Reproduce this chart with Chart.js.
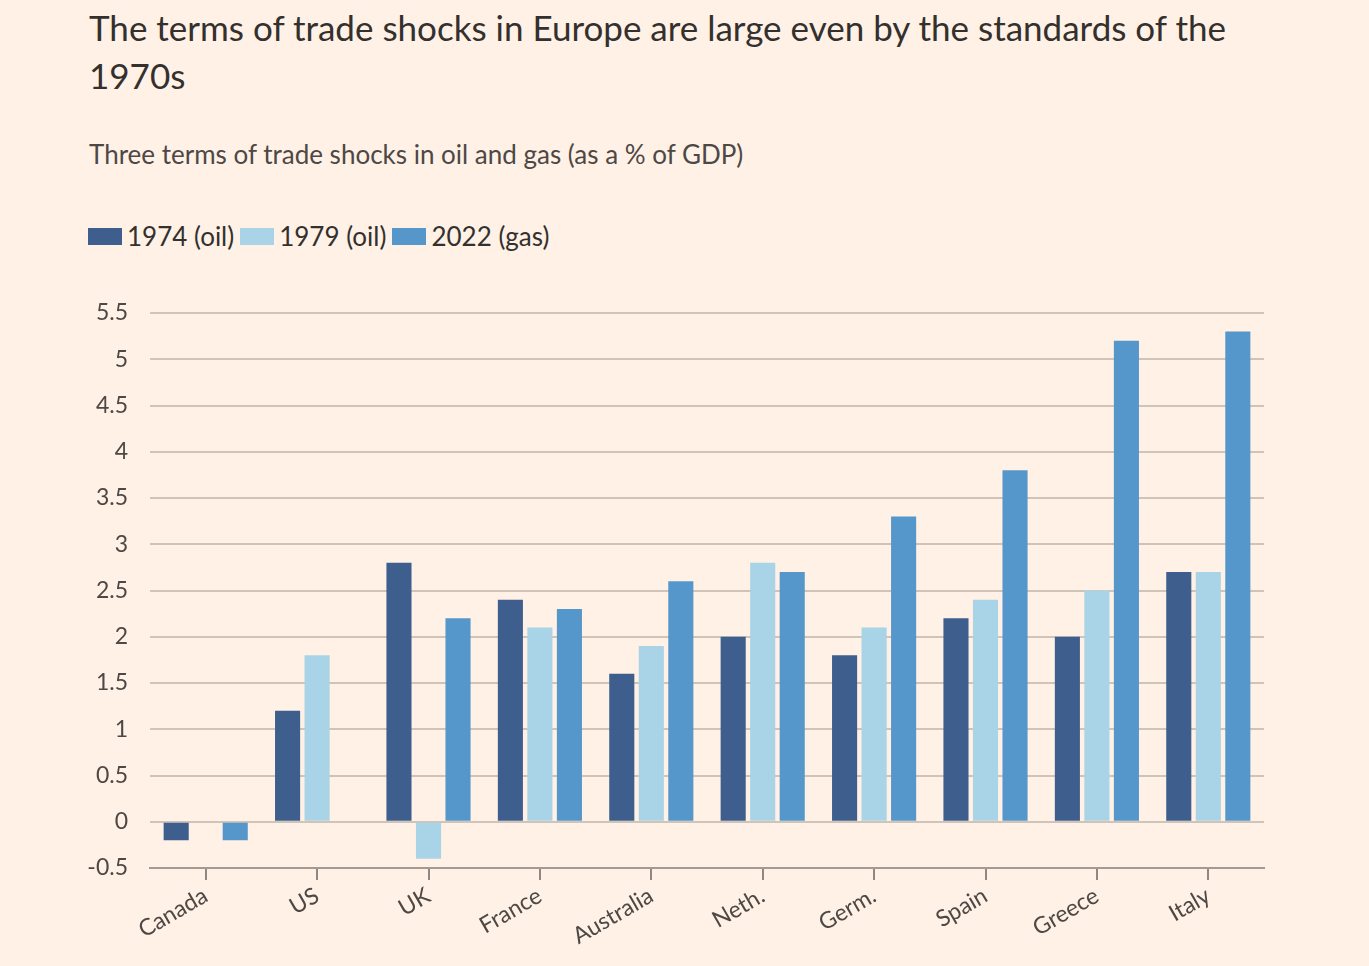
<!DOCTYPE html>
<html>
<head>
<meta charset="utf-8">
<script src="https://cdn.jsdelivr.net/npm/chart.js@4.4.0/dist/chart.umd.min.js"></script>
<style>
  html, body { margin:0; padding:0; background:#fff1e5; }
  body { width:1369px; height:966px; position:relative; overflow:hidden; font-family: "Lato", "Open Sans", sans-serif; color:#33302e; }
  #title { position:absolute; left:89px; top:3px; width:1200px; font-size:35px; line-height:48px; color:#33302e; }
  #subtitle { position:absolute; left:89px; top:139px; font-size:26px; line-height:31px; color:#4d4845; }
  #legend { position:absolute; left:88px; top:221px; font-size:26px; line-height:31px; color:#33302e; display:flex; align-items:center; }
  .item { display:flex; align-items:center; margin-right:6px; }
  .box { width:34px; height:17px; margin-right:5px; }
  #wrap { position:absolute; left:0; top:270px; width:1369px; height:696px; }
</style>
</head>
<body>
<div id="title">The terms of trade shocks in Europe are large even by the standards of the 1970s</div>
<div id="subtitle">Three terms of trade shocks in oil and gas (as a % of GDP)</div>
<div id="legend"></div>
<div id="wrap"><canvas id="c"></canvas></div>
<script>
const categories = ["Canada", "US", "UK", "France", "Australia", "Neth.", "Germ.", "Spain", "Greece", "Italy"];
const seriesNames = ["1974 (oil)", "1979 (oil)", "2022 (gas)"];
const oil1974 = [-0.2, 1.2, 2.8, 2.4, 1.6, 2.0, 1.8, 2.2, 2.0, 2.7];
const oil1979 = [null, 1.8, -0.4, 2.1, 1.9, 2.8, 2.1, 2.4, 2.5, 2.7];
const gas2022 = [-0.2, null, 2.2, 2.3, 2.6, 2.7, 3.3, 3.8, 5.2, 5.3];
const yTicks = [-0.5, 0, 0.5, 1, 1.5, 2, 2.5, 3, 3.5, 4, 4.5, 5, 5.5];
const colors = ["#3e5e8e", "#a9d3e6", "#5597cb"];

const seriesData = [oil1974, oil1979, gas2022];

const legend = document.getElementById('legend');
seriesNames.forEach((n, i) => {
  const d = document.createElement('div'); d.className = 'item';
  const b = document.createElement('div'); b.className = 'box'; b.style.background = colors[i];
  const t = document.createElement('span'); t.textContent = n;
  d.appendChild(b); d.appendChild(t); legend.appendChild(d);
});

const canvas = document.getElementById('c');
new Chart(canvas, {
  type: 'bar',
  data: {
    labels: categories,
    datasets: seriesNames.map((n, i) => ({
      label: n,
      data: seriesData[i],
      backgroundColor: colors[i],
      borderWidth: 0,
      categoryPercentage: 0.795,
      barPercentage: 0.85
    }))
  },
  options: {
    responsive: true,
    maintainAspectRatio: false,
    animation: false,
    devicePixelRatio: 1,
    layout: { padding: { left: 0, right: 105, top: 43, bottom: 0 } },
    plugins: { legend: { display: false }, title: { display: false }, tooltip: { enabled: false } },
    scales: {
      x: {
        grid: { display: true, drawOnChartArea: false, drawTicks: true, tickLength: 12, offset: false, color: '#8f8781', lineWidth: 2 },
        border: { display: true, color: '#a39a93', width: 2 },
        ticks: { color: '#4d4845', font: { family: 'Lato', size: 23 }, minRotation: 30, maxRotation: 30, padding: 2 },
        afterFit: (s) => { s.height = 98; }
      },
      y: {
        min: -0.5, max: 5.5,
        afterBuildTicks: (s) => { s.ticks = yTicks.map(v => ({ value: v })); },
        grid: { color: '#cfc4ba', lineWidth: 2, drawTicks: false },
        border: { display: false },
        ticks: { color: '#4d4845', font: { family: 'Lato', size: 23 }, padding: 22,
                 callback: (v) => String(v) },
        afterFit: (s) => { s.width = 150; }
      }
    }
  }
});
</script>
</body>
</html>
